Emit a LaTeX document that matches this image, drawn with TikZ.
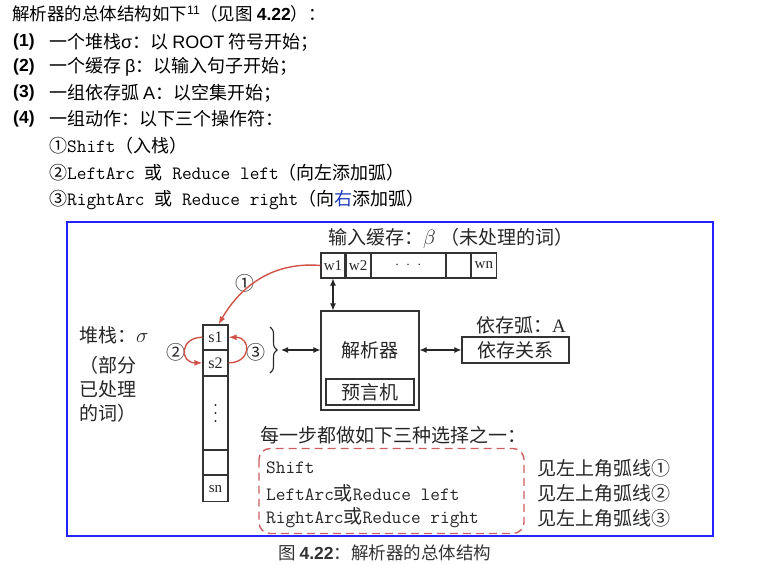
\documentclass[tikz,border=0pt]{standalone}
\usepackage{fontspec}
\setmainfont{Noto Sans CJK SC}
\newfontfamily\arialf{Liberation Sans}
\newfontfamily\timesf{Liberation Serif}
\usetikzlibrary{arrows.meta,decorations.pathreplacing}
\definecolor{arcred}{RGB}{208,82,72}
\definecolor{dashred}{RGB}{205,95,95}
\definecolor{frameblue}{RGB}{35,35,250}
\definecolor{editblue}{RGB}{30,60,190}
\newcommand\fsz[1]{\fontsize{#1}{#1}\selectfont}
\newcommand\mn[1]{{\ttfamily\fsz{18.8}#1}}
\newcommand\zh[1]{{\rmfamily\fsz{19}#1}}
\tikzset{
  txt/.style={inner sep=0pt, anchor=west, font=\fsz{17.5}},
  dtxt/.style={inner sep=0pt, font=\fsz{19}, text=black!85},
  cell/.style={draw=black!80, line width=1.1pt, inner sep=0pt, minimum height=25pt,
    font=\timesf\fsz{15}, text=black!85},
  scell/.style={cell, minimum width=25pt},
  box/.style={draw=black!80, line width=1.1pt, inner sep=0pt},
  dbl/.style={{Latex[length=7pt,width=6pt]}-{Latex[length=7pt,width=6pt]}, line width=1.1pt, black!85},
  redarc/.style={arcred, line width=1.4pt, -{Latex[length=8pt,width=6pt]}},
  choice/.style={inner sep=0pt, anchor=west, font=\ttfamily\fsz{18.8}, text=black!85},
}

\begin{document}
\begin{tikzpicture}[x=1pt,y=-1pt]
\useasboundingbox (0,0) rectangle (780,565);

% text above the figure
\node[txt] (l0) at (12,14) {解析器的总体结构如下\textsuperscript{\arialf 11}（见图 {\arialf\bfseries 4.22}）：};
\node[txt,font=\arialf\bfseries\fsz{17.5}] (n1) at (13,42) {(1)};
\node[txt,font=\fsz{18}] (t1) at (49,42) {一个堆栈{\arialf σ}：以 {\arialf ROOT} 符号开始；};
\node[txt,font=\arialf\bfseries\fsz{17.5}] (n2) at (13,67) {(2)};
\node[txt,font=\fsz{18}] (t2) at (49,67) {一个缓存 {\arialf β}：以输入句子开始；};
\node[txt,font=\arialf\bfseries\fsz{17.5}] (n3) at (13,93) {(3)};
\node[txt,font=\fsz{18}] (t3) at (49,93) {一组依存弧 {\arialf A}：以空集开始；};
\node[txt,font=\arialf\bfseries\fsz{17.5}] (n4) at (13,119) {(4)};
\node[txt,font=\fsz{18}] (t4) at (49,119) {一组动作：以下三个操作符：};
\node[txt,font=\fsz{18}] (o1) at (49,146) {①\mn{Shift}（入栈）};
\node[txt,font=\fsz{18}] (o2) at (49,173) {②\mn{LeftArc~}或\mn{~Reduce left}（向左添加弧）};
\node[txt,font=\fsz{18}] (o3) at (49,200) {③\mn{RightArc~}或\mn{~Reduce right}（向{\color{editblue}右}添加弧）};

% frame
\draw[frameblue, line width=2pt] (66.5,222) rectangle (713,535.5);

% input buffer
\node[dtxt,anchor=west] (buflab) at (328,238) {输入缓存：{\fsz{22}$\beta$} （未处理的词）};
\node[cell,minimum width=24pt] (w1) at (333,265.5) {w1};
\node[cell,minimum width=24pt,anchor=west] (w2) at (w1.east) {w2};
\node[cell,minimum width=74pt,anchor=west] (wdots) at (w2.east) {\raisebox{-2pt}{$\cdot\;\cdot\;\cdot$}};
\node[cell,minimum width=24pt,anchor=west] (wemp) at (wdots.east) {};
\node[cell,minimum width=25pt,anchor=west] (wn) at (wemp.east) {wn};

% stack
\node[dtxt,anchor=west] (stklab) at (79,335) {堆栈：{\fsz{22}$\sigma$}};
\node[dtxt,anchor=west,align=left,font=\fontsize{19}{24}\selectfont] (stknote) at (79,389) {（部分\\已处理\\的词）};
\node[scell,minimum height=24.5pt,font=\timesf\fsz{16}] (s1) at (215.5,337.25) {s1};
\node[scell,minimum height=24.5pt,font=\timesf\fsz{16},anchor=north] (s2) at (s1.south) {s2};
\node[scell,minimum height=73.5pt,anchor=north] (smid) at (s2.south) {};
\node[scell,minimum height=24pt,anchor=north] (semp) at (smid.south) {};
\node[scell,minimum height=25.5pt,anchor=north] (sn) at (semp.south) {sn};
\foreach \d in {-8,0,8}
  \fill[black!80] ([yshift=\d pt]smid.center) circle (1.2pt);

% parser
\node[box,minimum width=98pt,minimum height=99pt] (parser) at (370,360.5) {};
\node[dtxt] (plab) at (370,350) {解析器};
\node[box,dtxt,draw=black!80,minimum width=88pt,minimum height=26pt] (oracle) at (370,392) {预言机};

% arcs A
\node[dtxt] (deplab) at (521,325) {依存弧：{\timesf A}};
\node[box,dtxt,draw=black!80,minimum width=107pt,minimum height=26pt] (dep) at (515.5,350) {依存关系};

% brace and arrows
\coordinate (brtop) at (270,327);
\coordinate (brbot) at (270,373);
\coordinate (brtip) at (281,350);
\draw[black!85, line width=1.1pt, decorate, decoration={brace, amplitude=7pt}] (brtop) -- (brbot);
\draw[dbl] (w1.south) -- (w1.south |- parser.north);
\draw[dbl] (brtip) -- (brtip -| parser.west);
\draw[dbl] (parser.east |- dep.west) -- (dep.west);

% transitions
\node[dtxt] (c1) at (245,283) {①};
\node[dtxt] (c2) at (176,352) {②};
\node[dtxt] (c3) at (256,352) {③};
\draw[redarc] (w1.west) to[out=175,in=60] ([xshift=3pt]s1.north);
\draw[redarc] (s1.west) to[out=180,in=180,looseness=2.3] (s2.west);
\draw[redarc] (s2.east) to[out=0,in=0,looseness=2.3] (s1.east);

% choices
\node[dtxt,anchor=west] (steplab) at (260,435) {每一步都做如下三种选择之一：};
\draw[dashred, line width=1.4pt, dash pattern=on 8pt off 5pt, rounded corners=11pt] (259,448.5) rectangle (524,533.5);
\node[choice] (ch1) at (266,468) {Shift};
\node[choice] (ch2) at (266,493) {LeftArc\zh{或}Reduce left};
\node[choice] (ch3) at (266,518) {RightArc\zh{或}Reduce right};
\node[dtxt,anchor=west] (see1) at (537,468) {见左上角弧线①};
\node[dtxt,anchor=west] (see2) at (537,493) {见左上角弧线②};
\node[dtxt,anchor=west] (see3) at (537,518) {见左上角弧线③};

% caption
\node[txt,text=black!80] (cap) at (278,553) {图 {\arialf\bfseries 4.22}：解析器的总体结构};
\end{tikzpicture}
\end{document}
